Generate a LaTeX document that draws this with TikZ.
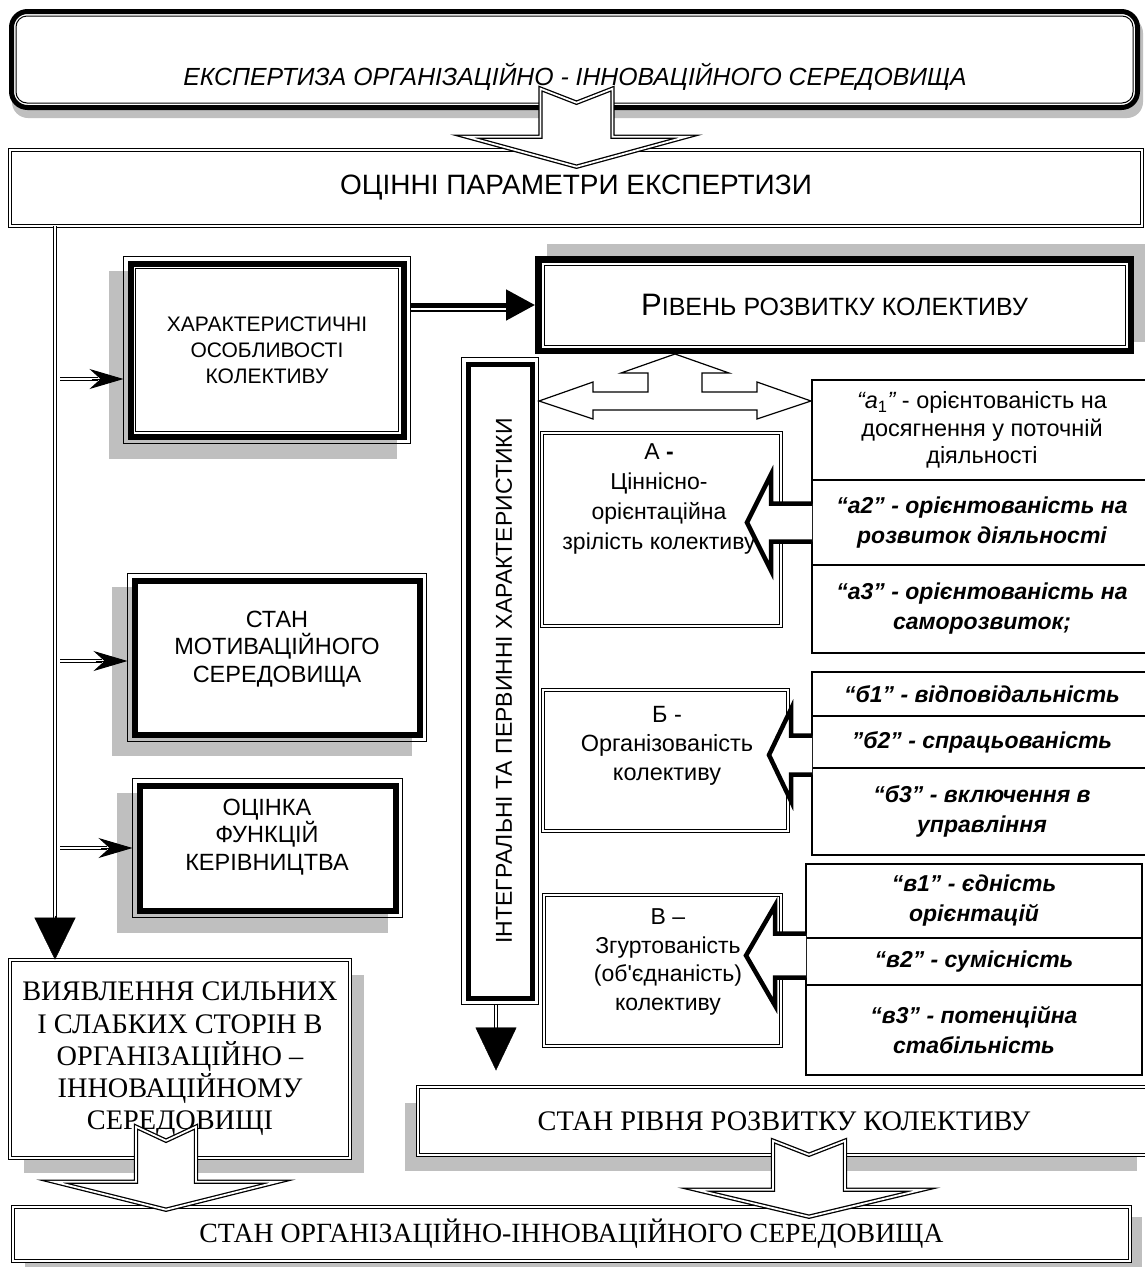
\documentclass[tikz,border=0pt]{standalone}
\usepackage{fontspec}
\setmainfont{Liberation Serif}
\setsansfont{Liberation Sans}
\usepackage{xcolor}
\usepackage{tikz}
\usetikzlibrary{arrows.meta,positioning,calc,backgrounds}
\newcommand\fsz[2]{\fontsize{#1}{#2}\selectfont}
\newcommand\boxrim[2]{\draw[line width=1pt] ([shift={({-(#2)},{-(#2)})}]#1.north west) rectangle ([shift={(#2,#2)}]#1.south east);}
\newcommand\boxshade[4]{\fill[black!25] ([shift={({#2-#4},{#3-#4})}]#1.north west) rectangle ([shift={({#2+#4},{#3+#4})}]#1.south east);}
\newcommand\blockdown[5]{\draw[blockarr] (#1) -- ++(#2,-#3) -- ++({#4-#2},0) -- ++(0,-#5) -- ++(-#4,14) -- ++(-#4,-14) -- ++(0,#5) -- ++({#4-#2},0) -- cycle;}
\newcommand\blockleft[5]{\fill[white] (#1) ++(0,-#3) -- ++(-#2,0) -- ++(0,{#3-#5}) -- ++(-#4,#5) -- ++(#4,#5) -- ++(0,{#3-#5}) -- ++(#2,0) -- cycle;
  \draw[heavyline] (#1) ++(0,-#3) -- ++(-#2,0) -- ++(0,{#3-#5}) -- ++(-#4,#5) -- ++(#4,#5) -- ++(0,{#3-#5}) -- ++(#2,0);}

\begin{document}
\begin{tikzpicture}[x=1pt,y=-1pt,font=\sffamily,
  every node/.style={align=center,inner sep=0pt},
  dline/.style={double,double distance=2.6pt,line width=1.1pt},
  dframe/.style={draw,fill=white,double,double distance=2.4pt,line width=1pt},
  heavybox/.style={draw,fill=white,line width=#1},
  cell/.style={draw,fill=white,line width=1.2pt,anchor=north west,outer sep=0pt,font=\sffamily\bfseries\itshape\fsz{23}{30}},
  blockarr/.style={draw,fill=white,double,double distance=1.8pt,line width=1.3pt,line join=miter},
  heavyline/.style={line width=4.5pt,line join=miter},
  headtip/.style={line width=1pt,-{Stealth[length=34pt,width=20pt,inset=11pt]}}]
\path[use as bounding box] (0,0) rectangle (1144,1267);

\node[draw,fill=white,line width=5pt,rounded corners=16pt,minimum width=1126,minimum height=96] (top) at (574.5,59.5) {};
\draw[line width=1pt,rounded corners=11pt] ([shift={(7,7)}]top.north west) rectangle ([shift={(-7,-7)}]top.south east);
\node[font=\sffamily\itshape\fsz{24.8}{28}] (toptxt) at (575,77) {ЕКСПЕРТИЗА ОРГАНІЗАЦІЙНО - ІННОВАЦІЙНОГО СЕРЕДОВИЩА};
\node[dframe,minimum width=1131.6,minimum height=75.6,font=\sffamily\fsz{28}{32}] (par) at (576,188) {ОЦІННІ ПАРАМЕТРИ ЕКСПЕРТИЗИ};

\node[heavybox=6pt,minimum width=273,minimum height=173,font=\sffamily\fsz{21}{26}] (char) at (267,350) {ХАРАКТЕРИСТИЧНІ\\ОСОБЛИВОСТІ\\КОЛЕКТИВУ};
\boxrim{char}{4} \boxrim{char}{-8}
\node[heavybox=6pt,minimum width=285,minimum height=154] (motiv) at (277,657.5) {};
\node[font=\sffamily\fsz{23.5}{27.5}] (motivtxt) at (277,649) {СТАН\\МОТИВАЦІЙНОГО\\СЕРЕДОВИЩА};
\boxrim{motiv}{4}
\node[heavybox=6pt,minimum width=256,minimum height=125] (func) at (267.5,848) {};
\node[font=\sffamily\fsz{23.5}{27.5}] (functxt) at (267,837) {ОЦІНКА\\ФУНКЦІЙ\\КЕРІВНИЦТВА};
\boxrim{func}{4}

\node[heavybox=6.5pt,minimum width=592.5,minimum height=91.5] (rb) at (834.5,305) {{\fsz{31}{31}Р}{\fsz{25}{25}ІВЕНЬ РОЗВИТКУ КОЛЕКТИВУ}};
\boxrim{rb}{-9}
\node[heavybox=5pt,minimum width=64,minimum height=634] (vert) at (500,681) {};
\boxrim{vert}{4}
\node[rotate=90,font=\sffamily\fsz{23}{23}] (verttxt) at ($(vert.center)+(4,0)$) {ІНТЕГРАЛЬНІ ТА ПЕРВИННІ ХАРАКТЕРИСТИКИ};

\node[cell,minimum width=340,minimum height=100,font=\sffamily\fsz{23.5}{27.5}] (a1) at (812,380) {{\itshape “а}\textsubscript{1}{\itshape ”} - орієнтованість на\\досягнення у поточній\\діяльності};
\node[cell,minimum width=340,minimum height=85] (a2) at (a1.south west) {“а2” - орієнтованість на\\розвиток діяльності};
\node[cell,minimum width=340,minimum height=88] (a3) at (a2.south west) {“а3” - орієнтованість на\\саморозвиток;};
\node[cell,minimum width=340,minimum height=44] (b1) at (812,672) {“б1” - відповідальність};
\node[cell,minimum width=340,minimum height=52] (b2) at (b1.south west) {”б2” - спрацьованість};
\node[cell,minimum width=340,minimum height=87] (b3) at (b2.south west) {“б3” - включення в\\управління};
\node[cell,minimum width=336,minimum height=74] (v1) at (806,864) {“в1” - єдність\\орієнтацій};
\node[cell,minimum width=336,minimum height=47] (v2) at (v1.south west) {“в2” - сумісність};
\node[cell,minimum width=336,minimum height=90] (v3) at (v2.south west) {“в3” - потенційна\\стабільність};

\node[dframe,minimum width=238.6,minimum height=192.6] (Abox) at (661.5,529.5) {};
\node[font=\sffamily\fsz{23}{30}] (Atxt) at (659,499) {А \textbf{-}\\Ціннісно-\\орієнтаційна\\зрілість колективу};
\node[dframe,minimum width=244.6,minimum height=140.6] (Bbox) at (665.5,760.5) {};
\node[font=\sffamily\fsz{23.5}{29}] (Btxt) at (667,746) {Б -\\Організованість\\колективу};
\node[dframe,minimum width=236.6,minimum height=150.6] (Vbox) at (662.5,970.5) {};
\node[font=\sffamily\fsz{23}{28.5}] (Vtxt) at (668,962) {В –\\Згуртованість\\(об\textquotesingle єднаність)\\колективу};

\node[dframe,minimum width=339.6,minimum height=197.6,font=\rmfamily\fsz{28.3}{32.3}] (vyav) at (180,1059) {ВИЯВЛЕННЯ СИЛЬНИХ\\І СЛАБКИХ СТОРІН В\\ОРГАНІЗАЦІЙНО –\\ІННОВАЦІЙНОМУ\\СЕРЕДОВИЩІ};
\node[dframe,minimum width=731.6,minimum height=67.6,font=\rmfamily\fsz{28.3}{32}] (srr) at (784,1121) {СТАН РІВНЯ РОЗВИТКУ КОЛЕКТИВУ};
\node[dframe,minimum width=1116.6,minimum height=53.6,font=\rmfamily\fsz{27.8}{30}] (bot) at (571.5,1234) {СТАН ОРГАНІЗАЦІЙНО-ІННОВАЦІЙНОГО СЕРЕДОВИЩА};

\coordinate (lft) at (55,0);
\draw[dline] (lft |- par.south) -- ($(lft |- vyav.north)+(0,-40)$);
\draw[-{Triangle[length=42pt,width=41pt]}] ($(lft |- vyav.north)+(0,-44)$) -- (lft |- vyav.north);
\draw[dline] ($(lft |- char.west)+(5,29)$) -- ($(char.west)+(-30,29)$);
\draw[headtip] ($(char.west)+(-36,29)$) -- ($(char.west)+(-4,29)$);
\draw[dline] ($(lft |- motiv.west)+(5,3.5)$) -- ($(motiv.west)+(-30,3.5)$);
\draw[headtip] ($(motiv.west)+(-36,3.5)$) -- ($(motiv.west)+(-4,3.5)$);
\draw[dline] (lft |- func.west) ++(5,0) -- ($(func.west)+(-30,0)$);
\draw[headtip] ($(func.west)+(-36,0)$) -- ($(func.west)+(-4,0)$);

\draw[line width=5pt,-{Triangle[length=29pt,width=30pt]}] ([xshift=4.5pt]char.east |- rb.west) -- (rb.west);
\draw[line width=1.2pt] ([xshift=4.5pt,yshift=-6pt]char.east |- rb.west) -- ([xshift=-29pt,yshift=-6pt]rb.west);

\coordinate (fork) at (675,401);
\draw[line width=1.2pt,fill=white,shift={(fork)}] (0,-47) -- (54,-28) -- (27,-28) -- (27,-9) -- (82,-9) -- (82,-19) -- (136,0) -- (82,18) -- (82,9)
  -- (-82,9) -- (-82,18) -- (-136,0) -- (-82,-19) -- (-82,-9) -- (-27,-9) -- (-27,-28) -- (-54,-28) -- cycle;

\blockleft{a2.west}{41}{19}{24}{48}
\blockleft{$(b2.west)+(0,13)$}{21}{19.5}{22}{46}
\blockleft{$(v2.west)+(0,-6)$}{31}{22}{29}{50}

\draw[dline] ($(vert.south)+(-4,4.5)$) -- ++(0,25);
\draw[-{Triangle[length=43pt,width=41pt]}] ($(vert.south)+(-4,27)$) -- ++(0,43);

\blockdown{$(par.north -| top.south)+(2,17)$}{110}{30}{36}{48}
\blockdown{$(bot.north -| vyav.south)+(-14,3)$}{112}{28}{30}{55}
\blockdown{$(bot.north -| srr.south)+(25,10)$}{113}{27}{36}{49}

\begin{scope}[on background layer]
\fill[white] (0,0) rectangle (1144,1267);
\fill[black!25,rounded corners=16pt] ([shift={(3,8)}]top.north west) rectangle ([shift={(3,8)}]top.south east);
\boxshade{char}{-14}{15}{4.5} \boxshade{motiv}{-15}{14}{4.5} \boxshade{func}{-15}{15}{4.5}
\boxshade{rb}{12}{-12}{0} \boxshade{vyav}{14}{15}{0} \boxshade{srr}{-13}{16}{0} \boxshade{bot}{12}{10}{0}
\end{scope}
\end{tikzpicture}
\end{document}
